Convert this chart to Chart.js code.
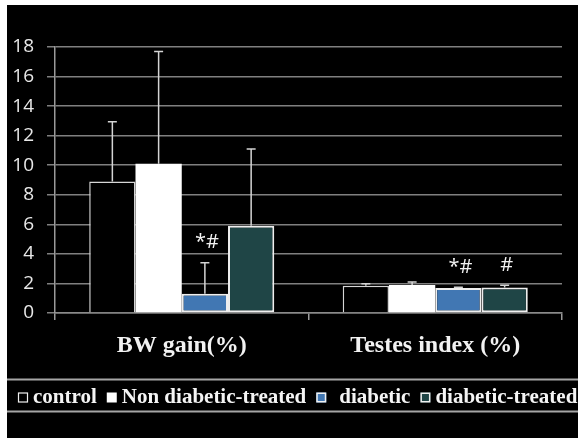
<!DOCTYPE html>
<html>
<head>
<meta charset="utf-8">
<script src="https://cdn.jsdelivr.net/npm/chart.js@4/dist/chart.umd.min.js"></script>
<style>
  html, body { margin: 0; padding: 0; background: #ffffff; }
  body { width: 578px; height: 438px; overflow: hidden; position: relative; }
  #wrap { position: absolute; left: 7px; top: 5px; width: 571px; height: 433px; background: #000000; }
  canvas { display: block; }
</style>
</head>
<body>
<div id="wrap"><canvas id="chart" width="571" height="433"></canvas></div>
<script>
// Group labels along the x axis
const categories = ['BW gain(%)', 'Testes index (%)'];

// Mean values and upper error (SD) per group
const controlValues = [8.9, 1.85];
const controlErrors = [4.05, 0.13];
const nonDiabeticTreatedValues = [10.1, 1.9];
const nonDiabeticTreatedErrors = [7.6, 0.2];
const diabeticValues = [1.3, 1.7];
const diabeticErrors = [2.1, 0.05];
const diabeticTreatedValues = [5.9, 1.73];
const diabeticTreatedErrors = [5.2, 0.15];

// Significance marks shown above the error bars
const controlMarks = ['', ''];
const nonDiabeticTreatedMarks = ['', ''];
const diabeticMarks = ['*#', '*#'];
const diabeticTreatedMarks = ['', '#'];

// Value axis range
const yMin = 0;
const yMax = 18;
const yStep = 2;

const SERIF = '"Liberation Serif", "Times New Roman", serif';
const SANS = '"Open Sans", "Liberation Sans", sans-serif';

// Error whiskers (upper only) and significance marks
const errorBarPlugin = {
  id: 'errorBars',
  afterDatasetsDraw(chart) {
    const ctx = chart.ctx;
    const yScale = chart.scales.y;
    ctx.save();
    chart.data.datasets.forEach((ds, i) => {
      const meta = chart.getDatasetMeta(i);
      meta.data.forEach((bar, j) => {
        const top = yScale.getPixelForValue(ds.data[j] + ds.errors[j]);
        ctx.strokeStyle = '#d4d4d4';
        ctx.lineWidth = 1.5;
        ctx.beginPath();
        ctx.moveTo(bar.x, bar.y);
        ctx.lineTo(bar.x, top);
        ctx.moveTo(bar.x - 4.5, top);
        ctx.lineTo(bar.x + 4.5, top);
        ctx.stroke();
        const mark = ds.marks[j];
        if (mark) {
          ctx.fillStyle = '#f2f2f2';
          ctx.font = '20px ' + SANS;
          ctx.textAlign = 'center';
          ctx.textBaseline = 'bottom';
          ctx.fillText(mark, bar.x + 2, top - 10);
        }
      });
    });
    ctx.restore();
  }
};

// Legend row framed by two horizontal rules
const legendRowPlugin = {
  id: 'legendRow',
  afterDraw(chart) {
    const ctx = chart.ctx;
    const w = chart.width;
    const lineTop = 374.5, lineBottom = 406.5, midY = 391.5;
    ctx.save();
    ctx.strokeStyle = '#a6a6a6';
    ctx.lineWidth = 2;
    ctx.beginPath();
    ctx.moveTo(0, lineTop); ctx.lineTo(w, lineTop);
    ctx.moveTo(0, lineBottom); ctx.lineTo(w, lineBottom);
    ctx.stroke();

    ctx.font = 'bold 21px ' + SERIF;
    ctx.textBaseline = 'middle';
    ctx.textAlign = 'left';
    let x = 11;
    chart.data.datasets.forEach((ds) => {
      const s = 10;
      const sy = midY - s / 2 + 1;
      if (ds.legendHollow) {
        ctx.strokeStyle = '#f0f0f0';
        ctx.lineWidth = 1.2;
        ctx.strokeRect(x + 0.5, sy + 0.5, s - 1, s - 1);
      } else {
        ctx.fillStyle = ds.backgroundColor;
        ctx.fillRect(x, sy, s, s);
        if (ds.legendBorder) {
          ctx.strokeStyle = '#f0f0f0';
          ctx.lineWidth = 1.5;
          ctx.strokeRect(x + 0.75, sy + 0.75, s - 1.5, s - 1.5);
        }
      }
      x += s + 5 + (ds.legendTextGap || 0);
      ctx.fillStyle = '#f4f4f4';
      ctx.fillText(ds.label, x, midY + 1);
      x += ctx.measureText(ds.label).width + 10;
    });
    ctx.restore();
  }
};

new Chart(document.getElementById('chart'), {
  type: 'bar',
  data: {
    labels: categories,
    datasets: [
      {
        label: 'control',
        data: controlValues,
        errors: controlErrors,
        marks: controlMarks,
        backgroundColor: '#000000',
        borderColor: '#d6d6d6',
        borderWidth: 1.5,
        legendHollow: true
      },
      {
        label: 'Non diabetic-treated',
        data: nonDiabeticTreatedValues,
        errors: nonDiabeticTreatedErrors,
        marks: nonDiabeticTreatedMarks,
        backgroundColor: '#ffffff',
        borderColor: '#ffffff',
        borderWidth: 0
      },
      {
        label: 'diabetic',
        data: diabeticValues,
        errors: diabeticErrors,
        marks: diabeticMarks,
        backgroundColor: '#4177b3',
        borderColor: '#eeeeee',
        borderWidth: 2,
        borderSkipped: false,
        legendBorder: true,
        legendTextGap: 8
      },
      {
        label: 'diabetic-treated',
        data: diabeticTreatedValues,
        errors: diabeticTreatedErrors,
        marks: diabeticTreatedMarks,
        backgroundColor: '#1f4546',
        borderColor: '#eeeeee',
        borderWidth: 2,
        borderSkipped: false,
        legendBorder: true
      }
    ]
  },
  options: {
    responsive: false,
    animation: false,
    devicePixelRatio: 1,
    layout: { padding: { top: 42, right: 16, left: 0, bottom: 0 } },
    datasets: {
      bar: { categoryPercentage: 0.73, barPercentage: 1.0 }
    },
    plugins: {
      legend: { display: false },
      tooltip: { enabled: false }
    },
    scales: {
      x: {
        grid: {
          offset: true,
          drawOnChartArea: false,
          drawTicks: true,
          tickLength: 7,
          color: '#9a9a9a',
          lineWidth: 1.5
        },
        border: { display: true, color: '#8a8a8a', width: 1.5 },
        ticks: {
          color: '#f2f2f2',
          padding: 11,
          font: { family: SERIF, size: 24, weight: 'bold' }
        },
        afterFit(scale) { scale.height = 125; }
      },
      y: {
        min: yMin,
        max: yMax,
        ticks: {
          stepSize: yStep,
          color: '#e8e8e8',
          padding: 13,
          font: { family: SANS, size: 19 }
        },
        grid: {
          color: '#808080',
          lineWidth: 1.5,
          tickLength: 8,
          drawTicks: true
        },
        border: { display: true, color: '#9a9a9a', width: 1.5 },
        afterFit(scale) { scale.width = 48; }
      }
    }
  },
  plugins: [errorBarPlugin, legendRowPlugin]
});
</script>
</body>
</html>
